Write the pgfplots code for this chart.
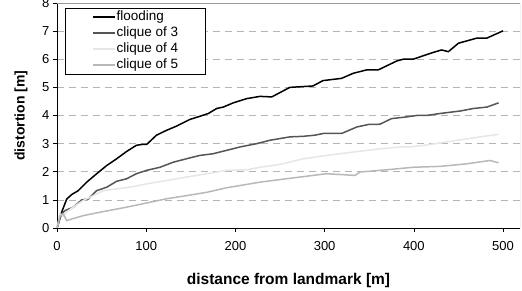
\documentclass[border=0pt]{standalone}
\usepackage{pgfplots}
\pgfplotsset{compat=1.18}
\usepackage{fontspec}
\setmainfont{Liberation Sans}
\definecolor{cthree}{HTML}{555555}
\definecolor{cfour}{HTML}{E6E6E6}
\definecolor{cfive}{HTML}{B8B8B8}
\definecolor{gridc}{HTML}{B4B4B4}
\definecolor{borderc}{HTML}{999999}
\begin{document}
\begin{tikzpicture}[x=1pt,y=1pt]
\useasboundingbox (-57,-63) rectangle (465,228);
\begin{axis}[
  at={(0,0)}, anchor=south west,
  scale only axis, width=463pt, height=225pt,
  xmin=0, xmax=519, ymin=0, ymax=8,
  axis x line*=bottom, axis y line*=left,
  axis line style={-, black, line width=0.8pt},
  xtick={0,100,200,300,400,500},
  ytick={0,1,2,3,4,5,6,7,8},
  tick align=outside,
  major tick length=4pt,
  tick style={black, line width=0.6pt},
  ymajorgrids,
  grid style={gridc, dash pattern=on 7pt off 5pt, line width=0.6pt},
  ticklabel style={font=\fontsize{13}{15}\selectfont},
  xticklabel style={yshift=-6pt},
  /pgf/number format/assume math mode=true,
  xlabel={\fontsize{15.5}{17}\selectfont\bfseries distance from landmark [m]},
  ylabel={\fontsize{14}{16}\selectfont\bfseries distortion [m]},
  xlabel style={at={([yshift=-52pt]axis description cs:0.5,0)}, anchor=center},
  ylabel style={at={([xshift=-36pt]axis description cs:0,0.5)}, anchor=center},
  legend cell align=left,
  legend style={at={(rel axis cs:0.017,0.978)}, anchor=north west,
    draw=black, line width=0.6pt, fill=white, inner xsep=0pt, inner ysep=1pt,
    font=\fontsize{13.5}{15}\selectfont,
    nodes={inner ysep=1.5pt, inner xsep=1pt, text height=10pt, text depth=3pt}},
  legend image code/.code={\path (-27pt,0pt); \draw[#1, line width=1.5pt] (0pt,0pt) -- (22pt,0pt);},
]
\draw[borderc, line width=0.8pt] (rel axis cs:0,1) -- (rel axis cs:1,1) -- (rel axis cs:1,0);
\addplot[black, line width=1.5pt] coordinates {
(0,0) (5.2,0.56) (10.9,1.03) (16.5,1.19) (23.9,1.33) (33.3,1.63) (44.5,1.93) (55.7,2.22) (66.8,2.46) (78,2.72) (89,2.94) (95,2.97) (100.5,2.97) (111.5,3.3) (122.6,3.47) (133.8,3.62) (149,3.86) (160,3.97) (169.6,4.07) (179,4.25) (186.4,4.3) (197.6,4.45) (212.6,4.6) (227.6,4.68) (240.7,4.66) (261,5.0) (287,5.05) (298,5.24) (319,5.32) (332,5.5) (347,5.62) (360,5.62) (381,5.94) (388,6.0) (399,6.0) (421.5,6.24) (431,6.33) (438.7,6.27) (450,6.57) (470.5,6.75) (481.7,6.75) (500,7.01)
};
\addlegendentry{\makebox[88pt][l]{flooding}}
\addplot[cthree, line width=1.5pt] coordinates {
(0,0) (5,0.5) (9,0.62) (18.3,0.74) (27.7,1.0) (35,1.03) (44.5,1.33) (55.7,1.45) (66.8,1.66) (78,1.75) (89,1.93) (100.5,2.05) (115.5,2.16) (130.4,2.34) (145,2.46) (160,2.58) (175,2.64) (190,2.76) (205,2.88) (224,3.0) (238.8,3.12) (261,3.24) (276,3.26) (289,3.3) (298.5,3.36) (319,3.36) (336,3.59) (349,3.68) (362,3.69) (375,3.89) (392,3.95) (403,4.0) (414,4.0) (429,4.07) (452,4.16) (467,4.25) (482,4.3) (495,4.45)
};
\addlegendentry{clique of 3}
\addplot[cfour, line width=1.5pt] coordinates {
(0,0) (3.4,0.5) (7,0.42) (10,0.55) (18,0.74) (29.5,0.98) (40.7,1.15) (52,1.33) (67,1.39) (85.5,1.47) (100.5,1.57) (123,1.69) (145,1.81) (168,1.93) (190,2.05) (212.6,2.07) (227.6,2.16) (250,2.26) (276,2.46) (302,2.58) (332,2.7) (358,2.8) (384.5,2.88) (396,2.88) (414,2.95) (437,3.06) (474,3.24) (495,3.33)
};
\addlegendentry{clique of 4}
\addplot[cfive, line width=1.5pt] coordinates {
(0,0) (3.4,0.44) (7,0.5) (10.9,0.26) (16.5,0.32) (29.5,0.44) (48,0.56) (63,0.65) (78,0.74) (100.5,0.89) (123,1.04) (145,1.15) (168,1.27) (190,1.43) (212.6,1.55) (227.6,1.63) (257,1.75) (302,1.93) (334,1.87) (339.5,1.99) (369.6,2.07) (399.5,2.16) (429,2.19) (459,2.28) (485,2.4) (495,2.32)
};
\addlegendentry{clique of 5}
\end{axis}
\end{tikzpicture}
\end{document}
